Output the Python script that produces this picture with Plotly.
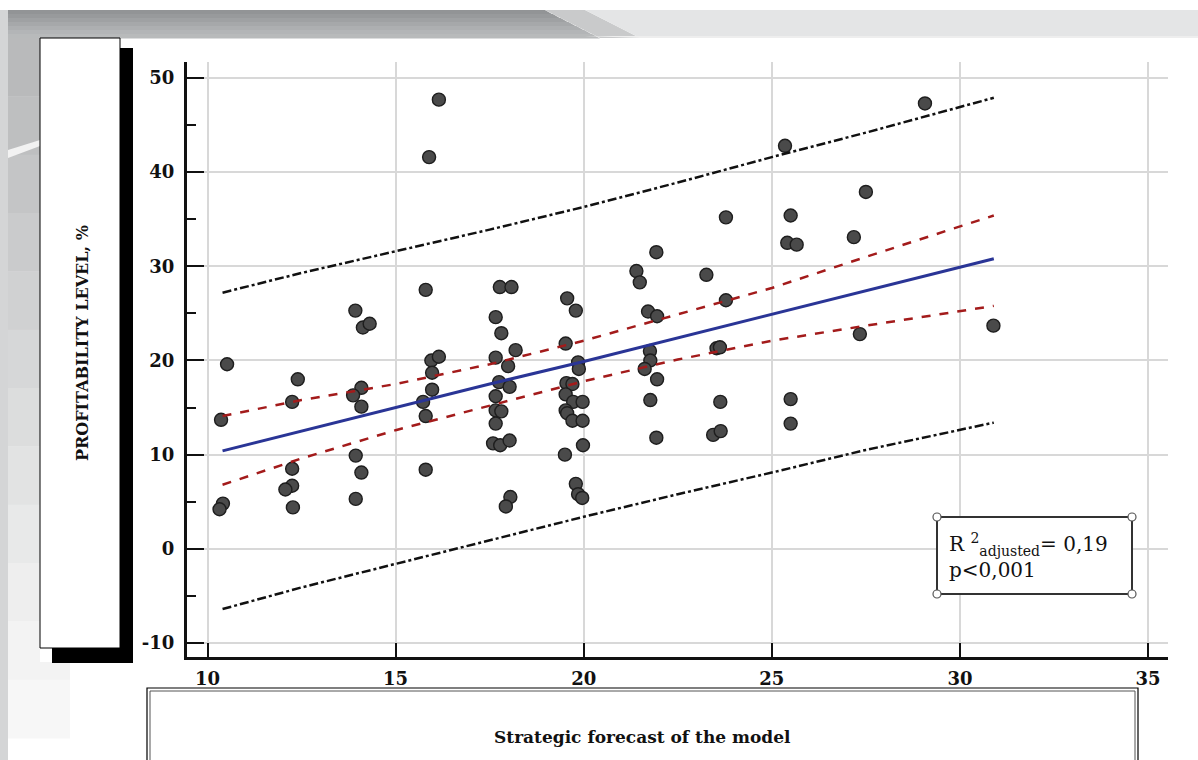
import plotly.graph_objects as go

# ---------------- data ----------------
forecast = [16.15, 15.89, 15.80, 13.93, 14.13, 14.31, 10.52, 15.95, 16.15, 15.97,
            12.40, 14.09, 13.87, 14.09, 15.97, 15.73, 12.25, 15.80, 10.36, 13.94,
            12.25, 14.09, 15.80, 12.25, 12.07, 13.94, 10.41, 10.32, 12.27,
            21.93, 21.40, 21.49, 23.26, 17.77, 18.08, 19.56, 19.79, 17.66, 21.71,
            21.95, 23.78, 17.81, 18.19, 19.52, 17.66, 17.99, 19.85, 19.87, 21.76,
            21.77, 21.62, 21.95, 23.53, 23.62, 17.75, 18.03, 19.54, 19.70, 17.66,
            19.52, 19.72, 19.97, 17.66, 17.81, 19.52, 19.56, 19.70, 19.97, 17.66,
            21.77, 23.63, 17.59, 17.78, 18.03, 19.98, 19.50, 21.93, 23.44, 23.64,
            19.79, 19.85, 19.96, 18.05, 17.93,
            29.07, 25.35, 27.50, 23.78, 25.50, 25.41, 25.66, 27.18, 27.34, 25.50,
            25.50, 30.89]
profitability = [47.7, 41.6, 27.5, 25.3, 23.5, 23.9, 19.6, 20.0, 20.4, 18.7,
                 18.0, 17.1, 16.3, 15.1, 16.9, 15.6, 15.6, 14.1, 13.7, 9.9,
                 8.5, 8.1, 8.4, 6.7, 6.3, 5.3, 4.8, 4.2, 4.4,
                 31.5, 29.5, 28.3, 29.1, 27.8, 27.8, 26.6, 25.3, 24.6, 25.2,
                 24.7, 26.4, 22.9, 21.1, 21.8, 20.3, 19.4, 19.8, 19.1, 21.0,
                 20.0, 19.1, 18.0, 21.3, 21.4, 17.7, 17.2, 17.6, 17.5, 16.2,
                 16.4, 15.6, 15.6, 14.7, 14.6, 14.7, 14.4, 13.6, 13.6, 13.3,
                 15.8, 15.6, 11.2, 11.0, 11.5, 11.0, 10.0, 11.8, 12.1, 12.5,
                 6.9, 5.8, 5.4, 5.5, 4.5,
                 47.3, 42.8, 37.9, 35.2, 35.4, 32.5, 32.3, 33.1, 22.8, 15.9,
                 13.3, 23.7]

line_x = [10.4, 12.5, 15.0, 17.5, 20.0, 22.5, 25.0, 27.5, 30.9]
regression_y = [10.4, 12.5, 15.0, 17.5, 19.9, 22.4, 24.9, 27.4, 30.8]
ci_upper = [14.1, 15.8, 17.5, 19.6, 22.1, 24.9, 27.7, 31.0, 35.4]
ci_lower = [6.8, 9.6, 12.6, 15.2, 17.8, 20.1, 22.1, 23.7, 25.8]
pi_upper = [27.2, 29.3, 31.6, 33.9, 36.3, 38.9, 41.6, 44.2, 47.9]
pi_lower = [-6.4, -4.1, -1.6, 0.9, 3.4, 5.8, 8.1, 10.5, 13.4]

x_ticks = [10, 15, 20, 25, 30, 35]
y_ticks = [-10, 0, 10, 20, 30, 40, 50]

x_title = "Strategic forecast of the model"
y_title = "PROFITABILITY LEVEL, %"
stats_text = "R <sup>2</sup><sub>adjusted</sub>= 0,19<br>p&lt;0,001"

# ---------------- layout geometry (pixels) ----------------
W, H = 1198, 760
L, R, T, B = 187, 1168, 62, 657
PW, PH = R - L, B - T


def px(x):
    return (x - L) / PW


def py(y):
    return (B - y) / PH


shapes = []


def rect(x0, y0, x1, y1, fill=None, line_color=None, line_width=0, layer="above"):
    shapes.append(dict(type="rect", xref="paper", yref="paper",
                       x0=px(x0), x1=px(x1), y0=py(y1), y1=py(y0),
                       fillcolor=fill if fill else "rgba(0,0,0,0)",
                       line=dict(color=line_color if line_color else "rgba(0,0,0,0)",
                                 width=line_width),
                       layer=layer))


def poly(points, fill):
    path = "M " + " L ".join(f"{px(a)},{py(b)}" for a, b in points) + " Z"
    shapes.append(dict(type="path", xref="paper", yref="paper", path=path,
                       fillcolor=fill, line=dict(width=0), layer="above"))


# top decorative band (dark part with vertical gradient)
band_cols = ["#929496", "#989a9c", "#9fa1a3", "#a6a8aa", "#adafb1", "#b3b5b7", "#b8babb"]
n = len(band_cols)
for i, c in enumerate(band_cols):
    y0 = 10 + i * 28 / n
    y1 = 10 + (i + 1) * 28 / n + 0.5
    xe0 = 545 + (i * 28 / n) * 55 / 28
    xe1 = 545 + ((i + 1) * 28 / n) * 55 / 28
    poly([(8, y0), (xe0, y0), (xe1, y1), (8, y1)], c)
poly([(545, 10), (585, 10), (640, 38), (600, 38)], "#c9cacb")
poly([(585, 10), (W, 10), (W, 38), (640, 38)], "#e4e5e6")
poly([(585, 36), (W, 36), (W, 38), (640, 38)], "#eeeeee")

# left decorative strip (gradient fading downward)
strip_cols = ["#b9babb", "#bebfc0", "#c4c5c6", "#cacbcc", "#d0d1d2", "#d6d7d8",
              "#dcdddd", "#e2e3e3", "#e8e9e9", "#eeeeee", "#f3f3f3", "#f7f7f7"]
m = len(strip_cols)
for i, c in enumerate(strip_cols):
    y0 = 38 + i * 700 / m
    y1 = 38 + (i + 1) * 700 / m + 0.5
    rect(8, y0, 40, y1, fill=c)
    if y1 > 662:
        rect(40, max(y0, 662), 70, y1, fill=c)
rect(0, 10, 8, 760, fill="#d4d5d6")
poly([(8, 150), (40, 140), (40, 146), (8, 158)], "#f2f2f2")

# y-title box with black shadow
rect(52, 48, 133, 663, fill="#000000")
rect(40, 38, 120, 648, fill="#ffffff", line_color="#000000", line_width=1)

# x-title box (double border)
rect(147, 688, 1138, 762, fill="#ffffff", line_color="#000000", line_width=1.2)
rect(150, 691, 1135, 762, line_color="#555555", line_width=1)

# statistics box with corner handles
rect(937, 517, 1132, 594, fill="#ffffff", line_color="#333333", line_width=2)
for cx, cy in [(937, 517), (1132, 517), (937, 594), (1132, 594)]:
    shapes.append(dict(type="circle", xref="paper", yref="paper",
                       x0=px(cx - 4), x1=px(cx + 4), y0=py(cy + 4), y1=py(cy - 4),
                       fillcolor="#ffffff", line=dict(color="#555555", width=1.2),
                       layer="above"))

fig = go.Figure()

fig.add_trace(go.Scatter(x=forecast, y=profitability, mode="markers",
                         marker=dict(size=13, color="#4a4a4a",
                                     line=dict(color="#1e1e1e", width=1.4)),
                         showlegend=False))
fig.add_trace(go.Scatter(x=line_x, y=pi_upper, mode="lines", showlegend=False,
                         line=dict(color="#111111", width=2.5, dash="dashdot")))
fig.add_trace(go.Scatter(x=line_x, y=pi_lower, mode="lines", showlegend=False,
                         line=dict(color="#111111", width=2.5, dash="dashdot")))
fig.add_trace(go.Scatter(x=line_x, y=ci_upper, mode="lines", showlegend=False,
                         line=dict(color="#a31b1b", width=2.5, dash="dash")))
fig.add_trace(go.Scatter(x=line_x, y=ci_lower, mode="lines", showlegend=False,
                         line=dict(color="#a31b1b", width=2.5, dash="dash")))
fig.add_trace(go.Scatter(x=line_x, y=regression_y, mode="lines", showlegend=False,
                         line=dict(color="#2a3596", width=3)))

tick_font = dict(family="DejaVu Serif", size=18, color="#111111", weight="bold")

fig.update_layout(
    width=W, height=H,
    margin=dict(l=L, r=W - R, t=T, b=H - B),
    paper_bgcolor="#ffffff", plot_bgcolor="#ffffff",
    shapes=shapes,
    xaxis=dict(range=[9.455, 35.53], tickvals=x_ticks, ticktext=[str(v) for v in x_ticks],
               ticks="inside", ticklen=14, tickwidth=2, tickcolor="#111111",
               showline=True, linewidth=3, linecolor="#111111",
               showgrid=True, gridcolor="#d8d8d8", gridwidth=2, zeroline=False,
               tickfont=tick_font, ticklabelstandoff=3),
    yaxis=dict(range=[-11.49, 51.7], tickvals=y_ticks, ticktext=[str(v) for v in y_ticks],
               ticks="inside", ticklen=17, tickwidth=2, tickcolor="#111111",
               minor=dict(ticks="inside", ticklen=9, tickwidth=2, tickcolor="#111111",
                          tickvals=[-5, 5, 15, 25, 35, 45], showgrid=False),
               showline=True, linewidth=3, linecolor="#111111",
               showgrid=True, gridcolor="#d8d8d8", gridwidth=2, zeroline=False,
               tickfont=tick_font, ticklabelstandoff=6),
    annotations=[
        dict(text=y_title, xref="paper", yref="paper", x=px(82), y=py(343),
             textangle=-90, showarrow=False, xanchor="center", yanchor="middle",
             font=dict(family="DejaVu Serif", size=16, color="#111111", weight="bold")),
        dict(text=x_title, xref="paper", yref="paper", x=px(642), y=py(737),
             showarrow=False, xanchor="center", yanchor="middle",
             font=dict(family="DejaVu Serif", size=17, color="#111111", weight="bold")),
        dict(text=stats_text, xref="paper", yref="paper", x=px(947), y=py(556),
             showarrow=False, xanchor="left", yanchor="middle", align="left",
             font=dict(family="DejaVu Serif", size=20, color="#111111")),
    ],
)

fig.write_html("out.html")
